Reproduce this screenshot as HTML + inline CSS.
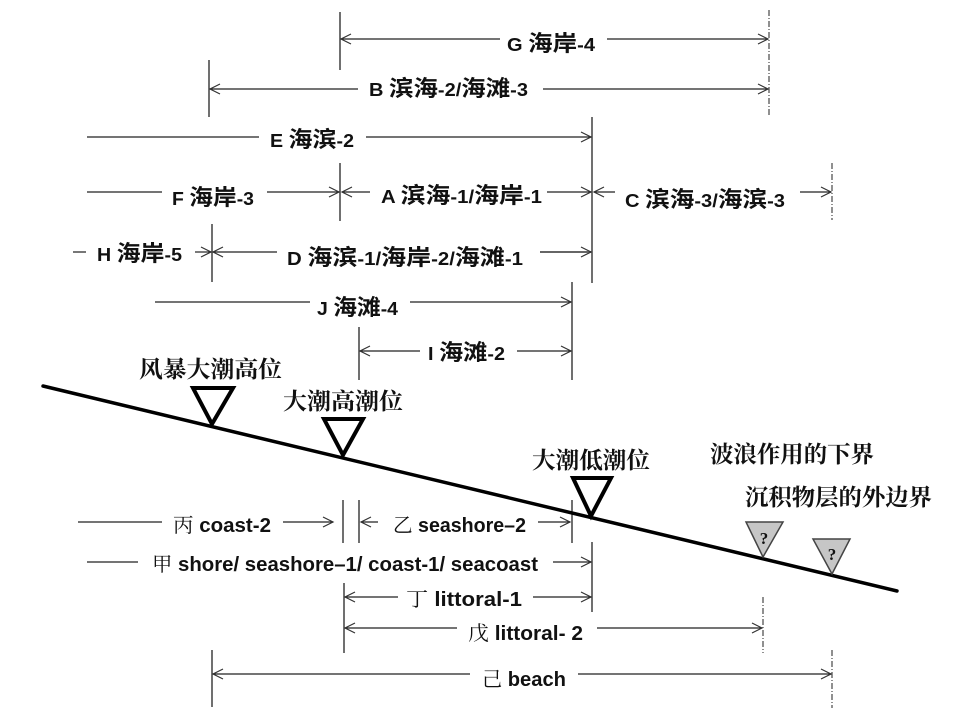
<!DOCTYPE html>
<html>
<head>
<meta charset="utf-8">
<style>
  html, body { margin:0; padding:0; background:#fff; }
  svg { display:block; }
  .lbl { font-family:"Liberation Sans","Noto Sans CJK SC",sans-serif; font-weight:bold; font-size:18px; fill:#111; }
  .zh { font-family:"Noto Sans CJK SC","Liberation Sans",sans-serif; font-weight:bold; font-size:22px; }
  .cjkthin { font-family:"Noto Serif CJK SC","Liberation Serif",serif; font-weight:normal; font-size:20px; }
  .en { font-family:"Liberation Sans","Noto Sans CJK SC",sans-serif; font-weight:bold; font-size:20px; }
  .slope { font-family:"Noto Serif CJK SC","Liberation Serif",serif; font-weight:bold; font-size:23px; fill:#111; }
</style>
</head>
<body>
<svg width="960" height="720" viewBox="0 0 960 720" xmlns="http://www.w3.org/2000/svg">
  <rect width="960" height="720" fill="#fff"/>

  <!-- vertical solid lines -->
  <g stroke="#111" stroke-width="1.2" fill="none">
    <line x1="340" y1="12" x2="340" y2="70"/>
    <line x1="209" y1="60" x2="209" y2="117"/>
    <line x1="340" y1="163" x2="340" y2="221"/>
    <line x1="212" y1="224" x2="212" y2="282"/>
    <line x1="592" y1="117" x2="592" y2="283"/>
    <line x1="572" y1="282" x2="572" y2="380"/>
    <line x1="359" y1="327" x2="359" y2="380"/>
    <line x1="343" y1="500" x2="343" y2="543"/>
    <line x1="359" y1="500" x2="359" y2="543"/>
    <line x1="572" y1="500" x2="572" y2="543"/>
    <line x1="592" y1="542" x2="592" y2="612"/>
    <line x1="344" y1="583" x2="344" y2="653"/>
    <line x1="212" y1="650" x2="212" y2="707"/>
  </g>
  <!-- dash-dot verticals -->
  <g stroke="#222" stroke-width="1" fill="none" stroke-dasharray="6,2,1,2">
    <line x1="769" y1="10" x2="769" y2="117"/>
    <line x1="832" y1="163" x2="832" y2="220"/>
    <line x1="763" y1="597" x2="763" y2="653"/>
    <line x1="832" y1="650" x2="832" y2="708"/>
  </g>

  <!-- horizontal segments -->
  <g stroke="#222" stroke-width="1.2" fill="none">
    <line x1="341" y1="39" x2="500" y2="39"/>
    <line x1="607" y1="39" x2="768" y2="39"/>
    <line x1="210" y1="89" x2="358" y2="89"/>
    <line x1="543" y1="89" x2="768" y2="89"/>
    <line x1="87" y1="137" x2="259" y2="137"/>
    <line x1="366" y1="137" x2="591" y2="137"/>
    <line x1="87" y1="192" x2="162" y2="192"/>
    <line x1="267" y1="192" x2="339" y2="192"/>
    <line x1="342" y1="192" x2="370" y2="192"/>
    <line x1="547" y1="192" x2="591" y2="192"/>
    <line x1="594" y1="192" x2="615" y2="192"/>
    <line x1="800" y1="192" x2="831" y2="192"/>
    <line x1="73" y1="252" x2="86" y2="252" stroke="#777" stroke-width="2"/>
    <line x1="195" y1="252" x2="211" y2="252"/>
    <line x1="213" y1="252" x2="277" y2="252"/>
    <line x1="540" y1="252" x2="591" y2="252" stroke="#666" stroke-width="2"/>
    <line x1="155" y1="302" x2="310" y2="302"/>
    <line x1="410" y1="302" x2="571" y2="302"/>
    <line x1="360" y1="351" x2="420" y2="351"/>
    <line x1="517" y1="351" x2="571" y2="351"/>
    <line x1="78" y1="522" x2="162" y2="522"/>
    <line x1="283" y1="522" x2="333" y2="522"/>
    <line x1="361" y1="522" x2="378" y2="522"/>
    <line x1="538" y1="522" x2="570" y2="522"/>
    <line x1="87" y1="562" x2="138" y2="562"/>
    <line x1="553" y1="562" x2="591" y2="562"/>
    <line x1="345" y1="597" x2="398" y2="597"/>
    <line x1="533" y1="597" x2="591" y2="597"/>
    <line x1="345" y1="628" x2="457" y2="628"/>
    <line x1="597" y1="628" x2="762" y2="628"/>
    <line x1="213" y1="674" x2="470" y2="674"/>
    <line x1="578" y1="674" x2="831" y2="674"/>
  </g>

  <!-- arrowheads -->
  <g stroke="#333" stroke-width="1.2" fill="none">
    <path d="M351,34 L341,39 L351,44"/>
    <path d="M220,84 L210,89 L220,94"/>
    <path d="M352,187 L342,192 L352,197"/>
    <path d="M604,187 L594,192 L604,197"/>
    <path d="M223,247 L213,252 L223,257"/>
    <path d="M370,346 L360,351 L370,356"/>
    <path d="M371,517 L361,522 L371,527"/>
    <path d="M355,592 L345,597 L355,602"/>
    <path d="M355,623 L345,628 L355,633"/>
    <path d="M223,669 L213,674 L223,679"/>
    <path d="M758,34 L768,39 L758,44"/>
    <path d="M758,84 L768,89 L758,94"/>
    <path d="M581,132 L591,137 L581,142"/>
    <path d="M329,187 L339,192 L329,197"/>
    <path d="M581,187 L591,192 L581,197"/>
    <path d="M821,187 L831,192 L821,197"/>
    <path d="M201,247 L211,252 L201,257"/>
    <path d="M581,247 L591,252 L581,257"/>
    <path d="M561,297 L571,302 L561,307"/>
    <path d="M561,346 L571,351 L561,356"/>
    <path d="M323,517 L333,522 L323,527"/>
    <path d="M560,517 L570,522 L560,527"/>
    <path d="M581,557 L591,562 L581,567"/>
    <path d="M581,592 L591,597 L581,602"/>
    <path d="M752,623 L762,628 L752,633"/>
    <path d="M821,669 L831,674 L821,679"/>
  </g>

  <!-- top labels -->
  <text class="lbl" x="507" y="51" textLength="88" lengthAdjust="spacingAndGlyphs">G <tspan class="zh">海岸</tspan>-4</text>
  <text class="lbl" x="369" y="96" textLength="159" lengthAdjust="spacingAndGlyphs">B <tspan class="zh">滨海</tspan>-2/<tspan class="zh">海滩</tspan>-3</text>
  <text class="lbl" x="270" y="147" textLength="84" lengthAdjust="spacingAndGlyphs">E <tspan class="zh">海滨</tspan>-2</text>
  <text class="lbl" x="172" y="205" textLength="82" lengthAdjust="spacingAndGlyphs">F <tspan class="zh">海岸</tspan>-3</text>
  <text class="lbl" x="381" y="203" textLength="161" lengthAdjust="spacingAndGlyphs">A <tspan class="zh">滨海</tspan>-1/<tspan class="zh">海岸</tspan>-1</text>
  <text class="lbl" x="625" y="207" textLength="160" lengthAdjust="spacingAndGlyphs">C <tspan class="zh">滨海</tspan>-3/<tspan class="zh">海滨</tspan>-3</text>
  <text class="lbl" x="97" y="261" textLength="85" lengthAdjust="spacingAndGlyphs">H <tspan class="zh">海岸</tspan>-5</text>
  <text class="lbl" x="287" y="265" textLength="236" lengthAdjust="spacingAndGlyphs">D <tspan class="zh">海滨</tspan>-1/<tspan class="zh">海岸</tspan>-2/<tspan class="zh">海滩</tspan>-1</text>
  <text class="lbl" x="317" y="315" textLength="81" lengthAdjust="spacingAndGlyphs">J <tspan class="zh">海滩</tspan>-4</text>
  <text class="lbl" x="428" y="360" textLength="77" lengthAdjust="spacingAndGlyphs">I <tspan class="zh">海滩</tspan>-2</text>

  <!-- slope line -->
  <line x1="43" y1="386" x2="897" y2="591" stroke="#000" stroke-width="3.5" stroke-linecap="round"/>

  <!-- tide triangles -->
  <g stroke="#000" stroke-width="4" fill="#fff" stroke-linejoin="miter">
    <polygon points="193,388 233,388 212,424"/>
    <polygon points="324,419 363,419 343,455"/>
    <polygon points="573,478 611,478 591,516"/>
  </g>
  <g stroke="#444" stroke-width="1.5" fill="#c6c6c6">
    <polygon points="746,522 783,522 763,557"/>
    <polygon points="813,539 850,539 832,574"/>
  </g>
  <text x="764" y="544" text-anchor="middle" font-family="'Liberation Serif',serif" font-weight="bold" font-size="17" fill="#111">?</text>
  <text x="832" y="560" text-anchor="middle" font-family="'Liberation Serif',serif" font-weight="bold" font-size="17" fill="#111">?</text>

  <!-- slope labels -->
  <text class="slope" x="139" y="377" textLength="143" lengthAdjust="spacingAndGlyphs">风暴大潮高位</text>
  <text class="slope" x="283" y="409" textLength="120" lengthAdjust="spacingAndGlyphs">大潮高潮位</text>
  <text class="slope" x="532" y="468" textLength="118" lengthAdjust="spacingAndGlyphs">大潮低潮位</text>
  <text class="slope" x="710" y="462" textLength="164" lengthAdjust="spacingAndGlyphs">波浪作用的下界</text>
  <text class="slope" x="745" y="505" textLength="187" lengthAdjust="spacingAndGlyphs">沉积物层的外边界</text>

  <!-- bottom labels -->
  <text class="lbl" x="173" y="532" textLength="98" lengthAdjust="spacingAndGlyphs"><tspan class="cjkthin">丙</tspan><tspan class="en"> coast-2</tspan></text>
  <text class="lbl" x="393" y="532" textLength="133" lengthAdjust="spacingAndGlyphs"><tspan class="cjkthin">乙</tspan><tspan class="en"> seashore–2</tspan></text>
  <text class="lbl" x="152" y="571" textLength="386" lengthAdjust="spacingAndGlyphs"><tspan class="cjkthin">甲</tspan><tspan class="en"> shore/ seashore–1/ coast-1/ seacoast</tspan></text>
  <text class="lbl" x="406" y="606" textLength="116" lengthAdjust="spacingAndGlyphs"><tspan class="cjkthin">丁</tspan><tspan class="en"> littoral-1</tspan></text>
  <text class="lbl" x="468" y="640" textLength="115" lengthAdjust="spacingAndGlyphs"><tspan class="cjkthin">戊</tspan><tspan class="en"> littoral- 2</tspan></text>
  <text class="lbl" x="482" y="686" textLength="84" lengthAdjust="spacingAndGlyphs"><tspan class="cjkthin">己</tspan><tspan class="en"> beach</tspan></text>
</svg>
</body>
</html>
